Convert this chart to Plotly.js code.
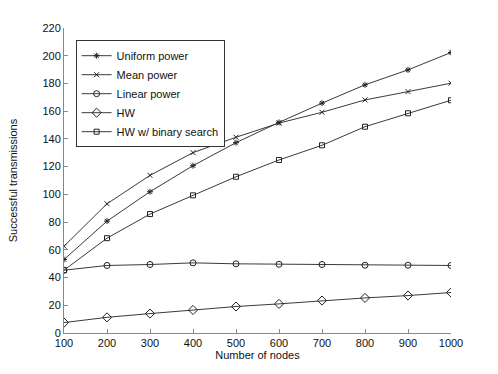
<!DOCTYPE html>
<html>
<head>
<meta charset="utf-8">
<script src="https://cdn.plot.ly/plotly-3.0.1.min.js"></script>
<style>html,body{margin:0;padding:0;background:#fff;}#chart{width:498px;height:374px;}</style>
</head>
<body>
<div id="chart"></div>
<script>
const nodes = [100, 200, 300, 400, 500, 600, 700, 800, 900, 1000];
const uniformPower = [53.0, 80.7, 101.9, 120.7, 137.3, 151.9, 165.8, 179.0, 189.8, 202.3];
const meanPower = [62.6, 93.2, 113.7, 130.1, 141.2, 151.4, 159.2, 168.1, 174.1, 180.2];
const linearPower = [45.3, 48.7, 49.4, 50.6, 49.9, 49.6, 49.4, 48.9, 48.9, 48.7];
const hw = [7.5, 11.3, 14.0, 16.6, 19.1, 21.0, 23.4, 25.3, 27.0, 29.2];
const hwBinary = [45.3, 68.4, 85.8, 99.3, 112.7, 124.8, 135.4, 148.8, 158.5, 167.9];

const seriesNames = ['Uniform power', 'Mean power', 'Linear power', 'HW', 'HW w/ binary search'];
const seriesData = [uniformPower, meanPower, linearPower, hw, hwBinary];
const symbols = ['asterisk-open', 'x-thin-open', 'circle-open', 'diamond-open', 'square-open'];
const sizes = [5, 5, 6, 7, 5];

const traces = seriesData.map((ys, i) => ({
  x: nodes, y: ys, name: seriesNames[i], type: 'scatter', mode: 'lines+markers',
  line: {color: '#3a3a3a', width: 1},
  marker: {symbol: symbols[i], size: sizes[i], color: '#222', line: {color: '#222', width: 1}}
}));

const layout = {
  width: 498, height: 374,
  margin: {l: 64, r: 47, t: 28, b: 41},
  paper_bgcolor: '#fff', plot_bgcolor: '#fff',
  font: {family: 'Liberation Sans, Arial, sans-serif', size: 11, color: '#111'},
  showlegend: true,
  legend: {x: 0.03, y: 0.96, xanchor: 'left', yanchor: 'top', bordercolor: '#333', borderwidth: 1,
           bgcolor: '#fff', font: {size: 11, color: '#111'}, tracegroupgap: 0, itemwidth: 30},
  xaxis: {range: [100, 1000], tickvals: nodes, ticks: 'inside', ticklen: 4, tickcolor: '#888',
          showline: true, linecolor: '#888', linewidth: 1, showgrid: false, zeroline: false,
          title: {text: 'Number of nodes', font: {size: 11}, standoff: 0}},
  yaxis: {range: [0, 220], dtick: 20, ticks: 'inside', ticklen: 4, tickcolor: '#888',
          showline: true, linecolor: '#888', linewidth: 1, showgrid: false, zeroline: false,
          title: {text: 'Successful transmissions', font: {size: 11}, standoff: 22}}
};
Plotly.newPlot('chart', traces, layout, {displayModeBar: false, staticPlot: true});
</script>
</body>
</html>
